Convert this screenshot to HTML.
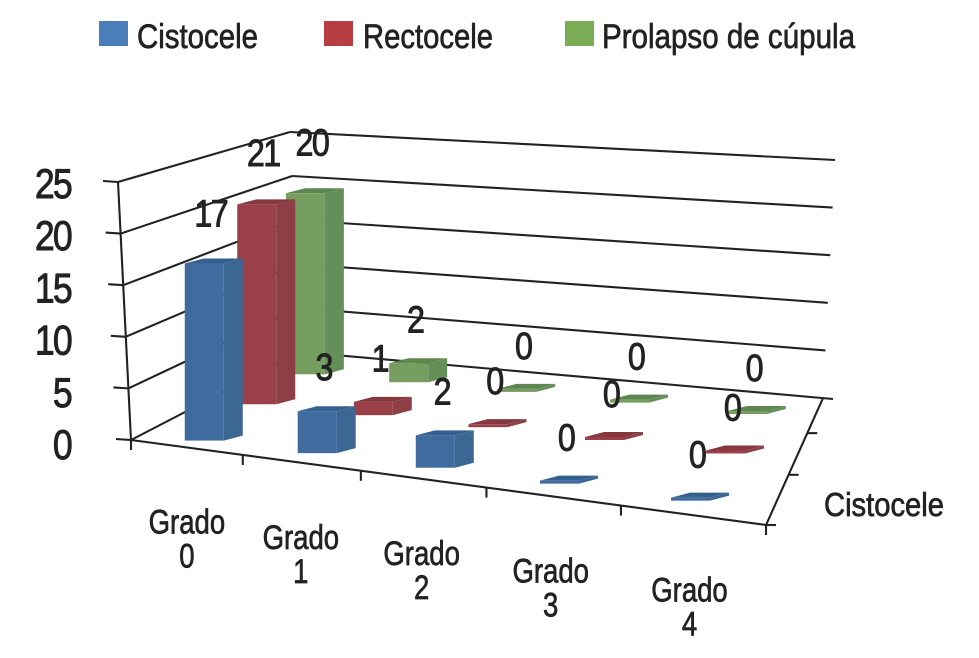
<!DOCTYPE html>
<html lang="es">
<head>
<meta charset="utf-8">
<title>Cistocele, Rectocele y Prolapso de cúpula por grado</title>
<style>
  html, body { margin: 0; padding: 0; background: #fff; }
  #chart { display: block; width: 979px; height: 658px; }
  text { font-family: "Liberation Sans", sans-serif; fill: #222; stroke: #222; stroke-width: 0.7; }
  .digit { letter-spacing: -0.05em; stroke-width: 0.9; }
</style>
</head>
<body>
<svg id="chart" xmlns="http://www.w3.org/2000/svg" width="979" height="658" viewBox="0 0 979 658">
  <g>
    <rect x="99" y="21" width="29" height="25" fill="#4a7ebb"/>
    <text x="137" y="48" font-size="34" textLength="121" lengthAdjust="spacingAndGlyphs">Cistocele</text>
    <rect x="324" y="21" width="29" height="25" fill="#b63d42"/>
    <text x="363" y="48" font-size="34" textLength="130" lengthAdjust="spacingAndGlyphs">Rectocele</text>
    <rect x="565" y="21" width="29" height="25" fill="#7aab55"/>
    <text x="602" y="48" font-size="34" textLength="253" lengthAdjust="spacingAndGlyphs">Prolapso de cúpula</text>
  </g>
  <g id="walls"></g>
  <g id="bars"></g>
  <g id="labels"></g>
  <text x="824" y="516" font-size="33" textLength="120" lengthAdjust="spacingAndGlyphs">Cistocele</text>
</svg>
<script>
const categories = ['0', '1', '2', '3', '4'];
const categoryWord = 'Grado';
const seriesKeys = ['cistocele', 'rectocele', 'prolapso'];
const cistocele = [17, 3, 2, 0, 0];
const rectocele = [21, 1, 0, 0, 0];
const prolapso = [20, 2, 0, 0, 0];
const yTicks = [0, 5, 10, 15, 20, 25];

const seriesValues = [cistocele, rectocele, prolapso];
const faceColors = [
  { front: '#406b9e', side: '#3c6693', top: '#34608f' },
  { front: '#9a4049', side: '#8e3f46', top: '#85383d' },
  { front: '#769e60', side: '#658f58', top: '#5d8650' }
];
const NS = 'http://www.w3.org/2000/svg';
const walls = document.getElementById('walls');
const bars = document.getElementById('bars');
const labels = document.getElementById('labels');

function make(tag, attrs, parent) {
  const el = document.createElementNS(NS, tag);
  for (const k in attrs) el.setAttribute(k, attrs[k]);
  parent.appendChild(el);
  return el;
}

// Floor projection: (u, w) in the unit square to image pixels.
function floorPoint(u, w) {
  const uu = u + 0.1 * u * (1 - u);
  const d = 1 - 0.22 * uu + 0.2405 * w;
  return {
    x: (466.5 * uu + 242.4 * w + 131) / d,
    y: (-30.5 * uu - 3.3 * w + 440) / d
  };
}
function axisLeftPoint(v) { return { x: 131 - 0.52 * v, y: 440 - 10.32 * v }; }
function wallCornerPoint(v) { return { x: 301 - 0.44 * v, y: 352 - 8.8 * v }; }
function wallRightPoint(v) { return { x: 823 + 0.48 * v, y: 398 - 9.52 * v }; }
function yTickLabelBaseline(v) { return 459 - 10.44 * v; }
function categoryTickU(i) {
  const t = i / categories.length;
  return t - 0.03 * t * t * (1 - t);
}
function barU(i, s) {
  const f = 1 - i / (categories.length - 1);
  const shift = s === 2 ? 0.04 * f : (s === 1 ? 0.034 : 0.006) * Math.pow(f, 4);
  return 0.078 + 0.195 * i - shift + (s === 1 ? 0.006 : 0);
}
function barW(s) { return [0.07, 0.42, 0.765][s]; }
function barFloor(i, s) {
  const f = 1 - i / (categories.length - 1);
  const p = floorPoint(barU(i, s), barW(s));
  return { x: p.x, y: p.y + 3 * Math.pow(f, 4) };
}
function barHeight(s, v) {
  if (v <= 0) return 3;
  return [13, 4, 1][s] + (9.65 - 0.325 * s) * v;
}
function line(a, b, parent, width) {
  return make('line', { x1: a.x, y1: a.y, x2: b.x, y2: b.y, stroke: '#222', 'stroke-width': width || 2.1 }, parent);
}
function scaledText(str, x, y, size, sx, parent) {
  const t = make('text', { transform: 'translate(' + x + ' ' + y + ') scale(' + sx + ' 1)', 'font-size': size, 'text-anchor': 'middle' }, parent);
  t.textContent = str;
  return t;
}

// Walls and gridlines
yTicks.forEach(function (v) {
  const a = axisLeftPoint(v), c = wallCornerPoint(v), r = wallRightPoint(v);
  const left = line(a, c, walls);
  
  
  const back = line(c, { x: r.x + (v === 0 ? 10 : 0), y: r.y + (v === 0 ? 1 : 0) }, walls);
  
  
  const tick = line({ x: a.x - 15, y: a.y - 1 }, a, walls);
  
  
  const lab = scaledText(String(v), 71, yTickLabelBaseline(v), 42, 0.85, labels);
  lab.setAttribute('text-anchor', 'end');
  lab.setAttribute('class', 'digit');
  
  
});
const yAxisLine = line(axisLeftPoint(0), axisLeftPoint(yTicks[yTicks.length - 1]), walls);



// Front (category) axis
const frontStart = floorPoint(0, 0), frontEnd = floorPoint(1, 0);
const frontAxis = line(frontStart, frontEnd, walls);


for (let i = 0; i <= categories.length; i++) {
  const p = floorPoint(categoryTickU(i), 0);
  const tick = line(p, { x: p.x, y: p.y + 10 }, walls);
  
  
}

// Depth axis
const depthAxis = line(floorPoint(1, 0), floorPoint(1, 1), walls);


for (let s = 0; s < seriesKeys.length; s++) {
  const p = floorPoint(1, s / seriesKeys.length);
  const tick = line(p, { x: p.x + 10, y: p.y }, walls);
  
  
}

// Category labels
categories.forEach(function (c, i) {
  const a = floorPoint(categoryTickU(i), 0);
  const b = floorPoint(categoryTickU(i + 1), 0);
  const mx = (a.x + b.x) / 2 - i, my = (a.y + b.y) / 2;
  const word = scaledText(categoryWord, mx, my + 86, 34, 0.81, labels);
  
  
  const num = scaledText(c, mx, my + 120, 34, 0.81, labels);
  
  
});

// Bars, back series first so nearer series overlap
const FRONT_W = 39, SIDE_W = 19, SIDE_RISE = 5;
for (let s = seriesValues.length - 1; s >= 0; s--) {
  seriesValues[s].forEach(function (v, i) {
    const p = barFloor(i, s);
    const h = barHeight(s, v);
    const top = p.y - h;
    const g = make('g', {}, bars);
    
    
    const colors = faceColors[s];
    make('polygon', {
      points: [p.x + FRONT_W, p.y, p.x + FRONT_W + SIDE_W, p.y - SIDE_RISE, p.x + FRONT_W + SIDE_W, top - SIDE_RISE, p.x + FRONT_W, top].join(' '),
      fill: colors.side
    }, g);
    make('polygon', {
      points: [p.x, top, p.x + FRONT_W, top, p.x + FRONT_W + SIDE_W, top - SIDE_RISE, p.x + SIDE_W, top - SIDE_RISE].join(' '),
      fill: colors.top
    }, g);
    make('rect', { x: p.x, y: top, width: FRONT_W, height: h, fill: colors.front }, g);
    const lab = scaledText(String(v), p.x + (FRONT_W + SIDE_W) / 2 - 3, top - 30 - v * 0.4, 38, 0.85, labels);
    lab.setAttribute('class', 'digit');
    
    
  });
}
</script>
</body>
</html>
